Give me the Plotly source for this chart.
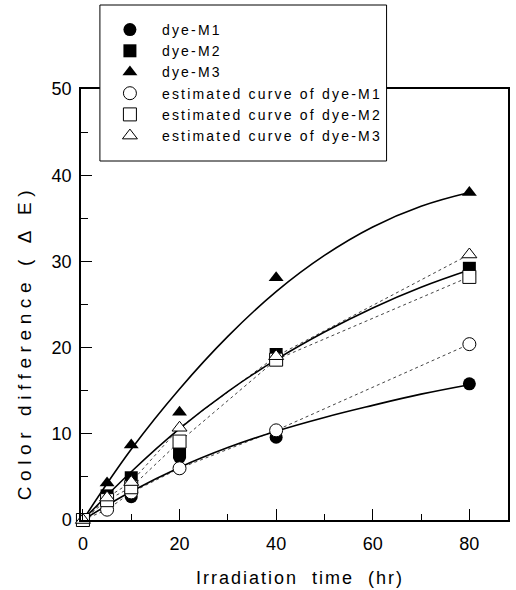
import plotly.graph_objects as go

# ---- data ----
time_hr = [0, 5, 10, 20, 40, 80]
dye_m1 = [0, 1.8, 2.7, 7.3, 9.6, 15.8]
dye_m2 = [0, 2.8, 4.9, 7.9, 19.2, 29.2]
dye_m3 = [0, 4.3, 8.7, 12.5, 28.1, 38.0]
est_m1 = [0, 1.2, 3.2, 6.0, 10.4, 20.4]
est_m2 = [0, 2.3, 3.8, 9.1, 18.6, 28.2]
est_m3 = [0, 2.6, 4.4, 10.7, 19.0, 30.8]

# smooth solid curves
curve_time = [0, 10, 20, 30, 40, 50, 60, 70, 80]
curve_m1 = [0, 3.3, 6.1, 8.4, 10.3, 11.9, 13.3, 14.6, 15.7]
curve_m2 = [0, 5.6, 10.6, 14.9, 18.6, 21.8, 24.6, 27.0, 29.0]
curve_m3 = [0, 8.2, 15.2, 21.3, 26.5, 30.7, 34.0, 36.4, 38.0]

names_meas = ["dye-M1", "dye-M2", "dye-M3"]
names_est = ["estimated curve of dye-M1", "estimated curve of dye-M2", "estimated curve of dye-M3"]
x_ticks = [0, 20, 40, 60, 80]
y_ticks = [0, 10, 20, 30, 40, 50]

FONT = "Liberation Sans, Arial, Helvetica, sans-serif"

fig = go.Figure()

meas = [dye_m1, dye_m2, dye_m3]
est = [est_m1, est_m2, est_m3]
curves = [curve_m1, curve_m2, curve_m3]
symbols = ["circle", "square", "triangle-up"]

for ys in est:
    fig.add_trace(go.Scatter(x=time_hr, y=ys, mode="lines", showlegend=False,
                             line=dict(color="#444444", width=1, dash="dot"),
                             hoverinfo="skip"))
for ys in curves:
    fig.add_trace(go.Scatter(x=curve_time, y=ys, mode="lines", showlegend=False,
                             line=dict(color="black", width=1.6, shape="spline", smoothing=1.2),
                             hoverinfo="skip"))

def lg(t):
    return '<span style="letter-spacing:2.2px">' + t + '</span>'

for ys, nm, sy in zip(meas, names_meas, symbols):
    fig.add_trace(go.Scatter(x=time_hr, y=ys, mode="markers", name=lg(nm), cliponaxis=False,
                             marker=dict(symbol=sy, size=13, color="black",
                                         line=dict(color="black", width=0))))
for ys, nm, sy in zip(est, names_est, symbols):
    fig.add_trace(go.Scatter(x=time_hr, y=ys, mode="markers", name=lg(nm), cliponaxis=False,
                             marker=dict(symbol=sy, size=13, color="white",
                                         line=dict(color="black", width=1))))

axis_common = dict(showgrid=False, zeroline=False, showline=True, linecolor="black",
                   linewidth=1.5, mirror=True, ticks="inside", tickcolor="black",
                   tickwidth=1.2, tickfont=dict(family=FONT, size=18, color="black"))

fig.update_xaxes(range=[-0.4, 88], tickvals=x_ticks, ticklen=11, ticklabelstandoff=7,
                 minor=dict(tickvals=[10, 30, 50, 70], ticks="inside", ticklen=6,
                            tickcolor="black", tickwidth=1),
                 **axis_common)
fig.update_yaxes(range=[0, 50], tickvals=y_ticks, ticklen=11, ticklabelstandoff=4,
                 minor=dict(tickvals=[5, 15, 25, 35, 45], ticks="inside", ticklen=7,
                            tickcolor="black", tickwidth=1),
                 **axis_common)

# axis titles
fig.add_annotation(text='<span style="letter-spacing:2px">Irradiation  time  (hr)</span>',
                   xref="paper", yref="paper", x=(301 - 81) / 429, y=(520 - 578) / 431,
                   xanchor="center", yanchor="middle", showarrow=False,
                   font=dict(family=FONT, size=18, color="black"))
fig.add_annotation(text='<span style="letter-spacing:5.6px">Color difference ( Δ E)</span>',
                   xref="paper", yref="paper", x=(24 - 81) / 429, y=(520 - 343) / 431,
                   xanchor="center", yanchor="middle", textangle=-90, showarrow=False,
                   font=dict(family=FONT, size=19, color="black"))

# legend frame
fig.add_shape(type="rect", xref="paper", yref="paper",
              x0=(100 - 81) / 429, x1=(388 - 81) / 429,
              y0=(520 - 161) / 431, y1=(520 - 5) / 431,
              fillcolor="white", line=dict(color="black", width=1), layer="above")

fig.update_layout(
    width=516, height=590,
    margin=dict(l=81, r=6, t=89, b=70),
    paper_bgcolor="white", plot_bgcolor="white",
    font=dict(family=FONT, color="black"),
    showlegend=True,
    legend=dict(x=(98 - 81) / 429, y=(520 - 14) / 431, xanchor="left", yanchor="top",
                bgcolor="rgba(0,0,0,0)", borderwidth=0,
                font=dict(family=FONT, size=14, color="black"),
                itemwidth=54, tracegroupgap=0),
)

fig.write_html("out.html", config={"displayModeBar": False},
               post_script="document.body.style.margin='0';")
